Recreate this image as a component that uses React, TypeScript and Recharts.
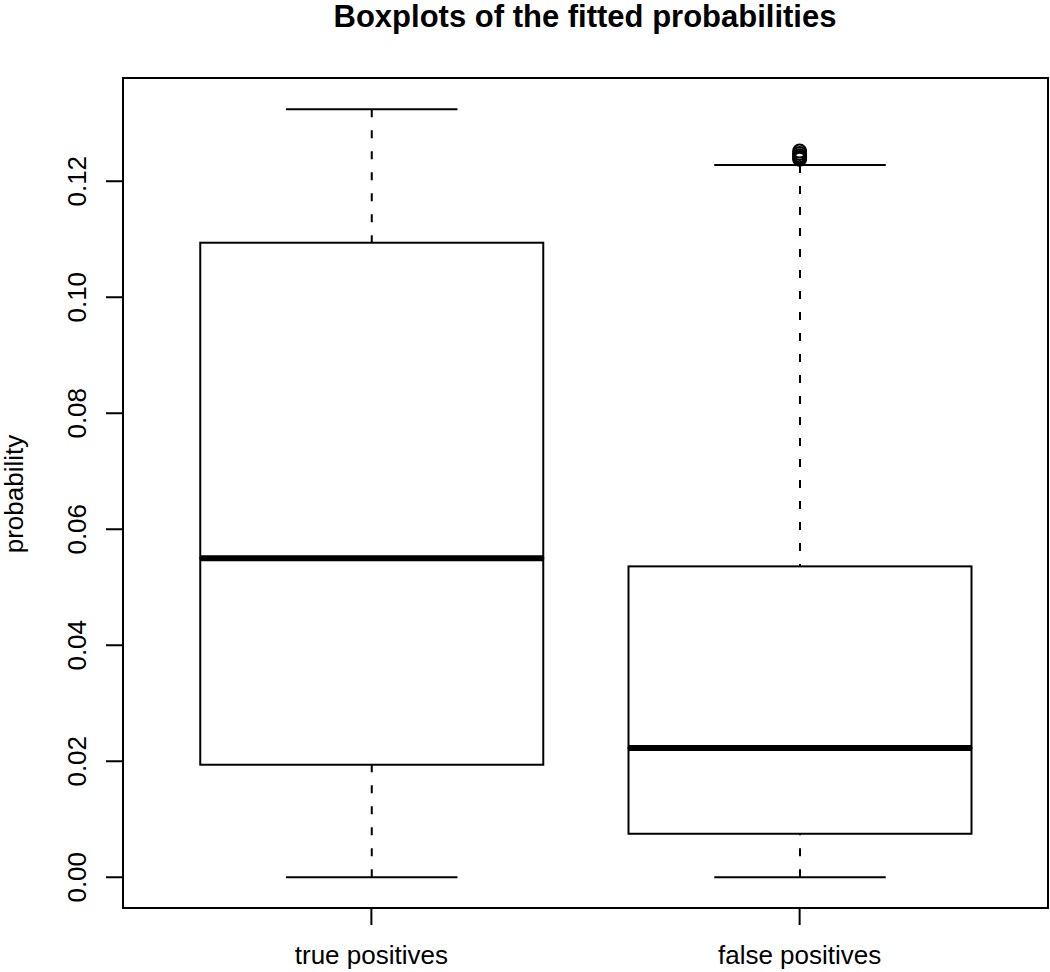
import { ComposedChart, Bar, Scatter, XAxis, YAxis, ReferenceArea } from 'recharts'

const FONT = '"Liberation Sans", Arial, Helvetica, sans-serif'

// box statistics
const GROUPS = ['true positives', 'false positives']
const GROUP_POS = [1, 2]
const WHISKER_LOW = [0, 0]
const Q1 = [0.0194, 0.0075]
const MEDIAN = [0.055, 0.0223]
const Q3 = [0.1094, 0.0536]
const WHISKER_HIGH = [0.1324, 0.1228]
const OUTLIERS_FP = [0.1252, 0.1248, 0.1244, 0.1241, 0.1238]

const Y_TICKS = [0, 0.02, 0.04, 0.06, 0.08, 0.1, 0.12]
const X_DOMAIN: [number, number] = [0.42, 2.58]
const Y_DOMAIN: [number, number] = [-0.0053, 0.1378]

const boxData = GROUPS.map((name, i) => ({
  pos: GROUP_POS[i],
  name,
  base: WHISKER_LOW[i],
  lowWhisker: Q1[i] - WHISKER_LOW[i],
  lowBox: MEDIAN[i] - Q1[i],
  highBox: Q3[i] - MEDIAN[i],
  highWhisker: WHISKER_HIGH[i] - Q3[i],
}))

const outlierData = OUTLIERS_FP.map(v => ({ pos: 2, value: v }))

const DASH = '8 13'

// eslint-disable-next-line @typescript-eslint/no-explicit-any
function LowWhisker(props: any) {
  const { x, y, width, height } = props
  const cx = x + width / 2
  const bottom = y + height
  return (
    <g>
      <line x1={cx} y1={bottom} x2={cx} y2={y} stroke="#000" strokeWidth={2} strokeDasharray={DASH} />
      <line x1={cx - width / 4} y1={bottom} x2={cx + width / 4} y2={bottom} stroke="#000" strokeWidth={2} />
    </g>
  )
}

// eslint-disable-next-line @typescript-eslint/no-explicit-any
function HighWhisker(props: any) {
  const { x, y, width, height } = props
  const cx = x + width / 2
  return (
    <g>
      <line x1={cx} y1={y} x2={cx} y2={y + height} stroke="#000" strokeWidth={2} strokeDasharray={DASH} />
      <line x1={cx - width / 4} y1={y} x2={cx + width / 4} y2={y} stroke="#000" strokeWidth={2} />
    </g>
  )
}

// eslint-disable-next-line @typescript-eslint/no-explicit-any
function LowBox(props: any) {
  const { x, y, width, height } = props
  return <rect x={x} y={y} width={width} height={height} fill="none" stroke="#000" strokeWidth={2} />
}

// eslint-disable-next-line @typescript-eslint/no-explicit-any
function HighBox(props: any) {
  const { x, y, width, height } = props
  return (
    <g>
      <rect x={x} y={y} width={width} height={height} fill="none" stroke="#000" strokeWidth={2} />
      {/* median */}
      <line x1={x} y1={y + height} x2={x + width} y2={y + height} stroke="#000" strokeWidth={6} />
    </g>
  )
}

// eslint-disable-next-line @typescript-eslint/no-explicit-any
function YTick(props: any) {
  const { x, y, payload } = props
  const tx = x - 18
  return (
    <text x={tx} y={y} transform={`rotate(-90 ${tx} ${y})`} textAnchor="middle" fontSize={26} fontFamily={FONT} fill="#000">
      {Number(payload.value).toFixed(2)}
    </text>
  )
}

export default function App() {
  return (
    <div style={{ position: 'relative', width: 1050, height: 972, background: '#fff' }}>
      <style>{'body{margin:0;background:#fff}'}</style>
      <ComposedChart
        width={1050}
        height={972}
        data={boxData}
        margin={{ top: 78, right: 2, bottom: 0, left: 0 }}
      >
        <XAxis
          dataKey="pos"
          type="number"
          domain={X_DOMAIN}
          ticks={GROUP_POS}
          allowDataOverflow
          interval={0}
          tickFormatter={(v: number) => GROUPS[GROUP_POS.indexOf(v)]}
          axisLine={false}
          tickLine={{ stroke: '#000', strokeWidth: 2 }}
          tickSize={17}
          tickMargin={21}
          height={64}
          tick={{ fill: '#000', fontSize: 26, fontFamily: FONT }}
        />
        <YAxis
          type="number"
          domain={Y_DOMAIN}
          ticks={Y_TICKS}
          allowDataOverflow
          interval={0}
          width={123}
          axisLine={false}
          tickLine={{ stroke: '#000', strokeWidth: 2 }}
          tickSize={17}
          tick={(p: any) => <YTick {...p} />}
        />
        <Bar dataKey="base" stackId="box" barSize={343} shape={() => <g />} isAnimationActive={false} />
        <Bar dataKey="lowWhisker" stackId="box" barSize={343} shape={LowWhisker} isAnimationActive={false} />
        <Bar dataKey="lowBox" stackId="box" barSize={343} shape={LowBox} isAnimationActive={false} />
        <Bar dataKey="highBox" stackId="box" barSize={343} shape={HighBox} isAnimationActive={false} />
        <Bar dataKey="highWhisker" stackId="box" barSize={343} shape={HighWhisker} isAnimationActive={false} />
        <Scatter
          data={outlierData}
          dataKey="value"
          isAnimationActive={false}
          shape={(p: any) => <circle cx={p.cx} cy={p.cy} r={6.5} fill="none" stroke="#000" strokeWidth={2} />}
        />
        <ReferenceArea
          x1={X_DOMAIN[0]}
          x2={X_DOMAIN[1]}
          y1={Y_DOMAIN[0]}
          y2={Y_DOMAIN[1]}
          fill="none"
          stroke="#000"
          strokeWidth={2}
        />
      </ComposedChart>
      <svg width={1050} height={972} style={{ position: 'absolute', left: 0, top: 0, pointerEvents: 'none' }}>
        <text x={585} y={27} textAnchor="middle" fontSize={31} fontWeight="bold" fontFamily={FONT} fill="#000">
          Boxplots of the fitted probabilities
        </text>
        <text x={23} y={494} transform="rotate(-90 23 494)" textAnchor="middle" fontSize={26} fontFamily={FONT} fill="#000">
          probability
        </text>
      </svg>
    </div>
  )
}
